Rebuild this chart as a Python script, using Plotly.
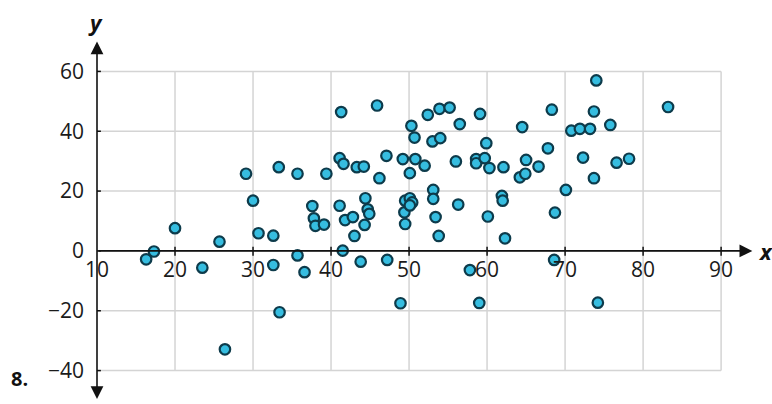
import plotly.graph_objects as go

# ---- data ----
x_vals = [16.3, 17.3, 20.0, 23.5, 25.7, 26.4, 29.1, 30.0, 30.7, 32.6,
          32.6, 33.4, 33.3, 35.7, 39.4, 37.6, 37.8, 38.0, 39.1, 35.7,
          36.6, 41.3, 45.9, 41.1, 41.6, 43.3, 44.2, 47.1, 46.2, 41.1,
          41.8, 42.8, 44.4, 44.7, 44.9, 44.3, 43.0, 41.5, 43.8, 47.2,
          48.9, 50.3, 50.7, 49.2, 50.8, 50.1, 52.0, 52.4, 53.9, 55.2,
          56.5, 53.0, 54.0, 56.0, 59.1, 59.9, 58.6, 58.6, 59.7, 60.3,
          62.1, 49.4, 49.5, 49.5, 50.1, 50.4, 50.1, 53.1, 53.1, 53.4,
          53.8, 56.3, 57.8, 59.0, 60.1, 61.9, 62.0, 62.3, 68.3, 64.5,
          74.0, 73.7, 70.8, 71.9, 73.2, 75.8, 83.2, 67.8, 65.0, 66.6,
          64.2, 64.9, 72.3, 73.7, 76.6, 78.2, 70.1, 68.7, 68.6, 74.2]
y_vals = [-2.8, -0.2, 7.6, -5.6, 3.1, -32.9, 25.8, 16.8, 5.9, 5.1,
          -4.7, -20.5, 28.0, 25.8, 25.8, 15.0, 10.9, 8.4, 8.8, -1.5,
          -7.1, 46.4, 48.6, 31.0, 29.1, 28.0, 28.2, 31.8, 24.3, 15.1,
          10.3, 11.3, 17.6, 13.9, 12.4, 8.7, 5.0, 0.1, -3.6, -3.0,
          -17.5, 41.8, 37.9, 30.7, 30.7, 26.0, 28.5, 45.5, 47.5, 47.9,
          42.4, 36.6, 37.7, 29.9, 45.8, 36.0, 30.7, 29.3, 31.0, 27.7,
          28.0, 12.9, 9.0, 16.8, 17.6, 16.2, 15.2, 20.4, 17.4, 11.3,
          5.0, 15.5, -6.4, -17.4, 11.5, 18.4, 16.8, 4.2, 47.2, 41.4,
          57.0, 46.6, 40.2, 40.8, 40.8, 42.1, 48.1, 34.3, 30.4, 28.2,
          24.6, 25.8, 31.2, 24.3, 29.5, 30.8, 20.4, 12.8, -3.0, -17.3]

x_ticks = [10, 20, 30, 40, 50, 60, 70, 80, 90]
y_ticks = [-40, -20, 0, 20, 40, 60]

X_MIN, X_MAX = 10, 94.6
Y_MIN, Y_MAX = -50.5, 70.5
X_GRID_END = 90
Y_GRID_MIN, Y_GRID_MAX = -40, 60
X_ARROW_END = 94.0
Y_ARROW_TOP, Y_ARROW_BOT = 70.0, -50.0

FONT = "Open Sans"
GRID = "#d4d4d4"
AXIS = "#111111"

fig = go.Figure()
fig.add_trace(go.Scatter(
    x=x_vals, y=y_vals, mode="markers",
    marker=dict(size=10.5, color="#36bde0",
                line=dict(color="#0d3b4b", width=2.2)),
    cliponaxis=False, showlegend=False, hoverinfo="skip"))

shapes = []
for yv in y_ticks:
    shapes.append(dict(type="line", xref="x", yref="y", x0=X_MIN, x1=X_GRID_END,
                       y0=yv, y1=yv, line=dict(color=GRID, width=1.5), layer="below"))
for xv in x_ticks[1:]:
    shapes.append(dict(type="line", xref="x", yref="y", x0=xv, x1=xv,
                       y0=Y_GRID_MIN, y1=Y_GRID_MAX, line=dict(color=GRID, width=1.5), layer="below"))
# tick marks crossing the axes
for xv in x_ticks[1:]:
    shapes.append(dict(type="line", xref="x", yref="y", x0=xv, x1=xv, y0=-1.6, y1=1.4,
                       line=dict(color=AXIS, width=1.5), layer="above"))
for yv in y_ticks:
    shapes.append(dict(type="line", xref="x", yref="y", x0=9.1, x1=10.5, y0=yv, y1=yv,
                       line=dict(color=AXIS, width=1.5), layer="above"))

annotations = [
    # x axis with arrow
    dict(x=X_ARROW_END, y=0, ax=X_MIN, ay=0, xref="x", yref="y", axref="x", ayref="y",
         showarrow=True, arrowhead=2, arrowsize=1.6, arrowwidth=1.6, arrowcolor=AXIS, text=""),
    # y axis with arrows at both ends
    dict(x=X_MIN, y=Y_ARROW_TOP, ax=X_MIN, ay=Y_ARROW_BOT, xref="x", yref="y", axref="x", ayref="y",
         showarrow=True, arrowhead=2, startarrowhead=2, arrowside="end+start",
         arrowsize=1.6, startarrowsize=1.6, arrowwidth=1.6, arrowcolor=AXIS, text=""),
    dict(x=1.0136, y=0.4174, xref="paper", yref="paper", text="<b><i>x</i></b>",
         showarrow=False, font=dict(family=FONT, size=22, color=AXIS), xanchor="center", yanchor="middle"),
    dict(x=-0.003, y=1.05, xref="paper", yref="paper", text="<b><i>y</i></b>",
         showarrow=False, font=dict(family=FONT, size=22, color=AXIS), xanchor="center", yanchor="middle"),
    dict(x=-0.118, y=0.066, xref="paper", yref="paper", text="<b>8.</b>",
         showarrow=False, font=dict(family=FONT, size=20, color=AXIS), xanchor="center", yanchor="middle"),
]

fig.update_layout(
    width=772, height=404,
    margin=dict(l=97, r=15, t=40, b=2, pad=0),
    paper_bgcolor="white", plot_bgcolor="white",
    shapes=shapes, annotations=annotations,
    font=dict(family=FONT, size=21, color="#1a1a1a"),
    xaxis=dict(range=[X_MIN, X_MAX], tickvals=x_ticks, ticktext=[str(v) for v in x_ticks],
               showgrid=False, zeroline=False, showline=False, ticks="",
               anchor="free", position=(0 - Y_MIN) / (Y_MAX - Y_MIN),
               automargin=False, ticklabelstandoff=4),
    yaxis=dict(range=[Y_MIN, Y_MAX], tickvals=y_ticks,
               showgrid=False, zeroline=False, showline=False, ticks="",
               automargin=False, ticklabelstandoff=12),
)

fig.write_html("out.html", config={"displayModeBar": False},
               post_script="document.body.style.margin='0';")
